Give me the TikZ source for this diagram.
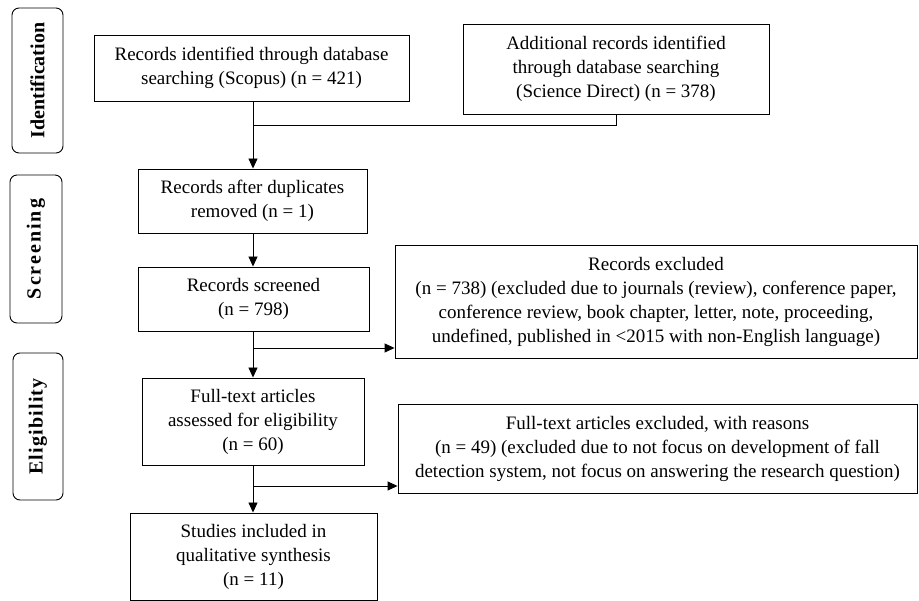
\documentclass[tikz,border=0pt]{standalone}
\usepackage{fontspec}
\setmainfont{Liberation Serif}
\usetikzlibrary{arrows.meta}
\begin{document}
\begin{tikzpicture}[x=1pt,y=-1pt,
  box/.style={draw, line width=0.9pt, align=center, inner sep=0pt, font=\fontsize{19}{24}\selectfont},
  phase/.style={draw, line width=0.9pt, rounded corners=7pt, inner sep=0pt, rotate=90, font=\fontsize{20}{22}\selectfont\bfseries},
  arr/.style={-{Triangle[length=10pt,width=9pt]}, line width=0.9pt},
  ln/.style={line width=0.9pt}]
\useasboundingbox (0,0) rectangle (919,601);
% phase labels
\node[phase, minimum width=145pt, minimum height=51pt] (ph1) at (37.5,80.5) {Identification};
\node[phase, minimum width=148pt, minimum height=52pt] (ph2) at (36,249) {\addfontfeature{LetterSpace=10}Screening};
\node[phase, minimum width=147pt, minimum height=50pt] (ph3) at (38,426.5) {\addfontfeature{LetterSpace=6}Eligibility};
% boxes
\node[box, minimum width=315pt, minimum height=66pt] (b1) at (251.5,68) {Records identified through database\\searching (Scopus) (n = 421)};
\node[box, minimum width=306pt, minimum height=90pt] (b2) at (616,69) {Additional records identified\\through database searching\\(Science Direct) (n = 378)};
\node[box, minimum width=229pt, minimum height=64pt] (b3) at (252.5,201) {Records after duplicates\\removed (n = 1)};
\node[box, minimum width=231pt, minimum height=64pt] (b4) at (253.5,299) {Records screened\\(n = 798)};
\node[box, minimum width=522pt, minimum height=113pt] (ex1) at (656,301.5) {Records excluded\\(n = 738) (excluded due to journals (review), conference paper,\\conference review, book chapter, letter, note, proceeding,\\undefined, published in <2015 with non-English language)};
\node[box, minimum width=222pt, minimum height=87pt] (b5) at (253,421.5) {Full-text articles\\assessed for eligibility\\(n = 60)};
\node[box, minimum width=519pt, minimum height=89pt] (ex2) at (657.5,448.5) {Full-text articles excluded, with reasons\\(n = 49) (excluded due to not focus on development of fall\\detection system, not focus on answering the research question)};
\node[box, minimum width=247pt, minimum height=87pt] (b6) at (253.5,556.5) {Studies included in\\qualitative synthesis\\(n = 11)};
% junctions
\coordinate (j1) at (253,125);
\coordinate (j2) at (253,348);
\coordinate (j3) at (253,486);
% connectors
\draw[ln] (b2.south) |- (j1);
\draw[arr] (j1 |- b1.south) -- (j1 |- b3.north);
\draw[arr] (j1 |- b3.south) -- (j1 |- b4.north);
\draw[arr] (j1 |- b4.south) -- (j1 |- b5.north);
\draw[arr] (j2) -- (j2 -| ex1.west);
\draw[arr] (j1 |- b5.south) -- (j1 |- b6.north);
\draw[arr] (j3) -- (j3 -| ex2.west);
\end{tikzpicture}
\end{document}
